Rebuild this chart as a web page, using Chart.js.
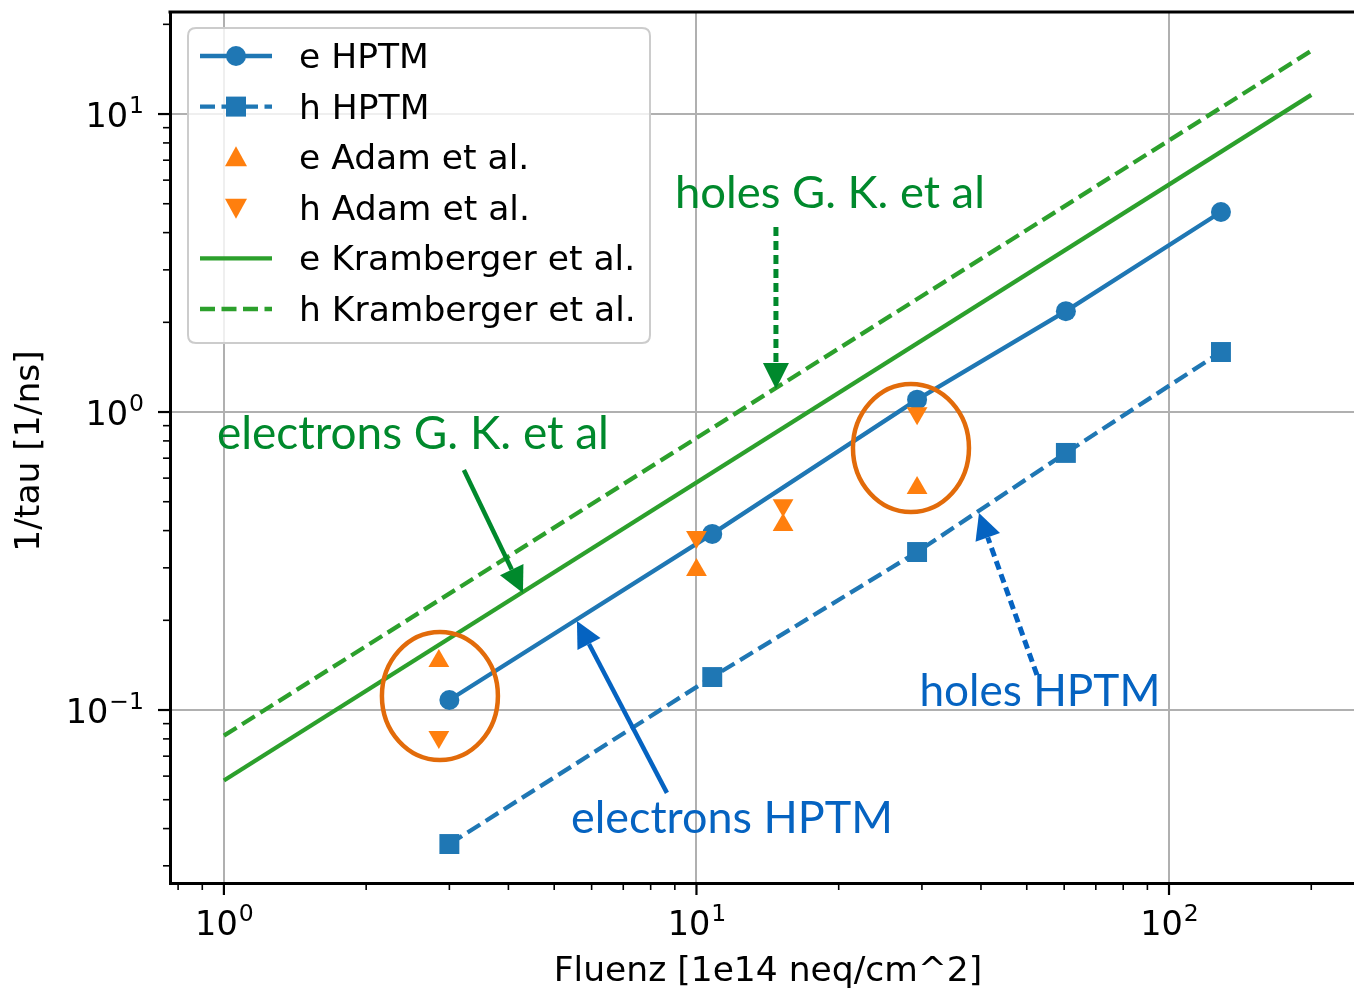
<!DOCTYPE html>
<html><head><meta charset="utf-8">
<script src="https://cdn.jsdelivr.net/npm/chart.js@4/dist/chart.umd.min.js"></script>
<style>html,body{margin:0;padding:0;background:#fff;overflow:hidden}canvas{display:block}</style>
</head><body><canvas id="c" width="1354" height="995" style="width:1354px;height:995px"></canvas>
<script>
// ---- data ----
const fluenceHPTM = [3.0, 10.8, 29.3, 60.5, 128.8];
const eHPTM = [0.108, 0.390, 1.10, 2.18, 4.69];
const hHPTM = [0.0355, 0.129, 0.339, 0.729, 1.59];
const fluenceAdam = [2.85, 10.0, 15.25, 29.3];
const eAdam = [0.146, 0.295, 0.418, 0.556];
const hAdam = [0.0812, 0.381, 0.487, 0.99];
const fluenceKram = [1, 200];
const eKram = [0.058, 11.6];
const hKram = [0.082, 16.3];
const seriesLabels = ['e HPTM', 'h HPTM', 'e Adam et al.', 'h Adam et al.', 'e Kramberger et al.', 'h Kramberger et al.'];
const xTickDecades = [0, 1, 2];
const yTickDecades = [-1, 0, 1];
const xTickLabels = [['10', '0'], ['10', '1'], ['10', '2']];
const yTickLabels = [['10', '\u22121'], ['10', '0'], ['10', '1']];
const xTitle = 'Fluenz [1e14 neq/cm^2]';
const yTitle = '1/tau [1/ns]';
const xRange = [0.769, 246.3];
const yRange = [0.02627, 22.0];
// annotations (text centre x, baseline y in data units)
const annotTexts = ['holes G. K. et al', 'electrons G. K. et al', 'electrons HPTM', 'holes HPTM'];
const annotX = [19.16, 2.512, 11.89, 53.3];
const annotY = [4.84, 0.751, 0.0387, 0.1031];
// arrows: start -> tip, data units
const arrowX1 = [14.73, 3.22, 8.66, 52.55];
const arrowY1 = [4.176, 0.639, 0.0527, 0.1311];
const arrowX2 = [14.73, 4.294, 5.586, 39.62];
const arrowY2 = [1.195, 0.247, 0.1989, 0.4583];
// ellipse centres
const ellipseX = [2.865, 28.44];
const ellipseY = [0.1114, 0.757];

// ---- styles ----
const BLUE = '#1f77b4', ORANGE = '#ff7f0e', GREEN = '#2ca02c';
const ANN_GREEN = '#00892C', ANN_BLUE = '#0563C1', ELL = '#E26B0A';
const annotColors = [ANN_GREEN, ANN_GREEN, ANN_BLUE, ANN_BLUE];
const annotWidths = [310, 392, 322, 241];
const arrowColors = [ANN_GREEN, ANN_GREEN, ANN_BLUE, ANN_BLUE];
const arrowDotted = [true, false, false, true];
const FONT = '"DejaVu Sans", sans-serif';
const TXT = 34.5;

function pts(xs, ys) { return xs.map((x, i) => ({x: x, y: ys[i]})); }
function isDecade(v) { const l = Math.log10(v); return Math.abs(l - Math.round(l)) < 1e-6; }
function logTicks(min, max) {
  const t = [];
  for (let e = Math.floor(Math.log10(min)); e <= Math.ceil(Math.log10(max)); e++) {
    for (let m = 1; m < 10; m++) {
      const v = parseFloat((m * Math.pow(10, e)).toPrecision(6));
      if (v >= min && v <= max) t.push({value: v});
    }
  }
  return t;
}

function drawMarker(ctx, style, x, y) {
  ctx.beginPath();
  if (style === 'circle') { ctx.arc(x, y, 10, 0, Math.PI * 2); }
  else if (style === 'rect') { ctx.rect(x - 10, y - 10, 20, 20); }
  else if (style === 'up') { ctx.moveTo(x, y - 11); ctx.lineTo(x + 11, y + 9); ctx.lineTo(x - 11, y + 9); ctx.closePath(); }
  else if (style === 'down') { ctx.moveTo(x, y + 11); ctx.lineTo(x + 11, y - 9); ctx.lineTo(x - 11, y - 9); ctx.closePath(); }
  ctx.fill();
}

function drawArrow(ctx, x1, y1, x2, y2, color, dotted) {
  const ang = Math.atan2(y2 - y1, x2 - x1);
  const headLen = 26, headW = 13;
  const bx = x2 - Math.cos(ang) * headLen, by = y2 - Math.sin(ang) * headLen;
  ctx.save();
  ctx.strokeStyle = color; ctx.fillStyle = color;
  ctx.lineWidth = dotted ? 5 : 4.5;
  ctx.setLineDash(dotted ? [9, 5] : []);
  ctx.beginPath(); ctx.moveTo(x1, y1); ctx.lineTo(bx, by); ctx.stroke();
  ctx.setLineDash([]);
  ctx.beginPath();
  ctx.moveTo(x2, y2);
  ctx.lineTo(bx + Math.sin(ang) * headW, by - Math.cos(ang) * headW);
  ctx.lineTo(bx - Math.sin(ang) * headW, by + Math.cos(ang) * headW);
  ctx.closePath(); ctx.fill();
  ctx.restore();
}

const decor = {
  id: 'decor',
  afterDraw(chart) {
    const ctx = chart.ctx, sx = chart.scales.x, sy = chart.scales.y, ca = chart.chartArea;
    const X = v => sx.getPixelForValue(v), Y = v => sy.getPixelForValue(v);
    ctx.save();
    // top spine
    ctx.strokeStyle = '#000'; ctx.lineWidth = 3;
    ctx.beginPath(); ctx.moveTo(ca.left - 1.5, ca.top); ctx.lineTo(ca.right + 2, ca.top); ctx.stroke();
    // tick marks
    ctx.lineCap = 'butt';
    sx.ticks.forEach(t => {
      const p = X(t.value), maj = isDecade(t.value);
      ctx.lineWidth = maj ? 2.2 : 1.6;
      ctx.beginPath(); ctx.moveTo(p, ca.bottom); ctx.lineTo(p, ca.bottom + (maj ? 12 : 7)); ctx.stroke();
    });
    sy.ticks.forEach(t => {
      const p = Y(t.value), maj = isDecade(t.value);
      ctx.lineWidth = maj ? 2.2 : 1.6;
      ctx.beginPath(); ctx.moveTo(ca.left, p); ctx.lineTo(ca.left - (maj ? 12 : 7), p); ctx.stroke();
    });
    // tick labels
    ctx.fillStyle = '#000'; ctx.textBaseline = 'alphabetic';
    const baseF = '33.5px ' + FONT, supF = '23.5px ' + FONT;
    xTickDecades.forEach((d, i) => {
      const c = X(Math.pow(10, d));
      ctx.font = baseF; const wb = ctx.measureText(xTickLabels[i][0]).width;
      ctx.font = supF; const ws = ctx.measureText(xTickLabels[i][1]).width;
      const sx0 = c - (wb + ws) / 2;
      ctx.font = baseF; ctx.textAlign = 'left'; ctx.fillText(xTickLabels[i][0], sx0, ca.bottom + 52);
      ctx.font = supF; ctx.fillText(xTickLabels[i][1], sx0 + wb + 1, ca.bottom + 38);
    });
    yTickDecades.forEach((d, i) => {
      const c = Y(Math.pow(10, d));
      ctx.font = baseF; const wb = ctx.measureText(yTickLabels[i][0]).width;
      ctx.font = supF; const ws = ctx.measureText(yTickLabels[i][1]).width;
      const sx0 = ca.left - 27 - ws - wb;
      ctx.font = baseF; ctx.textAlign = 'left'; ctx.fillText(yTickLabels[i][0], sx0, c + 13);
      ctx.font = supF; ctx.fillText(yTickLabels[i][1], sx0 + wb + 1, c - 1);
    });
    // axis titles
    ctx.font = TXT + 'px ' + FONT; ctx.textAlign = 'center'; ctx.textBaseline = 'middle';
    ctx.fillText(xTitle, 768, 972);
    ctx.save(); ctx.translate(30, 451); ctx.rotate(-Math.PI / 2); ctx.fillText(yTitle, 0, 0); ctx.restore();

    // legend
    ctx.save();
    const lx = 188, ly = 28, lw = 462, lh = 315, r = 8;
    ctx.beginPath();
    ctx.moveTo(lx + r, ly); ctx.lineTo(lx + lw - r, ly); ctx.quadraticCurveTo(lx + lw, ly, lx + lw, ly + r);
    ctx.lineTo(lx + lw, ly + lh - r); ctx.quadraticCurveTo(lx + lw, ly + lh, lx + lw - r, ly + lh);
    ctx.lineTo(lx + r, ly + lh); ctx.quadraticCurveTo(lx, ly + lh, lx, ly + lh - r);
    ctx.lineTo(lx, ly + r); ctx.quadraticCurveTo(lx, ly, lx + r, ly); ctx.closePath();
    ctx.fillStyle = 'rgba(255,255,255,0.8)'; ctx.fill();
    ctx.strokeStyle = '#cccccc'; ctx.lineWidth = 2; ctx.stroke();
    const rows = [56, 106.6, 157.2, 207.8, 258.4, 309];
    const hs = [
      {c: BLUE, line: true, dash: [], m: 'circle'},
      {c: BLUE, line: true, dash: [15, 6.5], m: 'rect'},
      {c: ORANGE, line: false, m: 'up'},
      {c: ORANGE, line: false, m: 'down'},
      {c: GREEN, line: true, dash: [], m: null},
      {c: GREEN, line: true, dash: [15, 6.5], m: null}
    ];
    hs.forEach((h, i) => {
      const y = rows[i];
      ctx.strokeStyle = h.c; ctx.fillStyle = h.c; ctx.lineWidth = 4.3;
      if (h.line) {
        ctx.setLineDash(h.dash); ctx.lineDashOffset = 0;
        ctx.beginPath(); ctx.moveTo(200, y); ctx.lineTo(272, y); ctx.stroke();
        ctx.setLineDash([]);
      }
      if (h.m) drawMarker(ctx, h.m, 236, y);
      ctx.fillStyle = '#000'; ctx.font = TXT + 'px ' + FONT; ctx.textAlign = 'left'; ctx.textBaseline = 'middle';
      ctx.fillText(seriesLabels[i], 299, y + 3);
    });
    ctx.restore();

    // ellipses
    ctx.strokeStyle = ELL; ctx.lineWidth = 4.5;
    ellipseX.forEach((ex, i) => {
      ctx.beginPath(); ctx.ellipse(X(ex), Y(ellipseY[i]), 58, 64, 0, 0, Math.PI * 2); ctx.stroke();
    });
    // arrows
    arrowX1.forEach((ax, i) => {
      drawArrow(ctx, X(ax), Y(arrowY1[i]), X(arrowX2[i]), Y(arrowY2[i]), arrowColors[i], arrowDotted[i]);
    });
    // annotation texts
    ctx.textAlign = 'center'; ctx.textBaseline = 'alphabetic';
    annotTexts.forEach((t, i) => {
      ctx.font = '44px Lato, "Open Sans", sans-serif';
      const w = ctx.measureText(t).width;
      const size = 44 * annotWidths[i] / w;
      ctx.font = size.toFixed(2) + 'px Lato, "Open Sans", sans-serif';
      ctx.fillStyle = annotColors[i];
      ctx.fillText(t, X(annotX[i]), Y(annotY[i]));
    });
    ctx.restore();
  }
};

const dash = [15, 6.5];
new Chart(document.getElementById('c'), {
  type: 'line',
  data: {
    datasets: [
      {label: seriesLabels[0], data: pts(fluenceHPTM, eHPTM), borderColor: BLUE, backgroundColor: BLUE, borderWidth: 4.3,
       pointStyle: 'circle', pointRadius: 10, pointBorderWidth: 0, pointBackgroundColor: BLUE, order: 6},
      {label: seriesLabels[1], data: pts(fluenceHPTM, hHPTM), borderColor: BLUE, backgroundColor: BLUE, borderWidth: 4.3, borderDash: dash,
       pointStyle: 'rect', pointRadius: 14.1, pointBorderWidth: 0, pointBackgroundColor: BLUE, order: 5},
      {label: seriesLabels[2], data: pts(fluenceAdam, eAdam), showLine: false, borderColor: ORANGE, backgroundColor: ORANGE,
       pointStyle: 'triangle', pointRadius: 12, pointBorderWidth: 0, pointBackgroundColor: ORANGE, order: 4},
      {label: seriesLabels[3], data: pts(fluenceAdam, hAdam), showLine: false, borderColor: ORANGE, backgroundColor: ORANGE,
       pointStyle: 'triangle', pointRotation: 180, pointRadius: 12, pointBorderWidth: 0, pointBackgroundColor: ORANGE, order: 3},
      {label: seriesLabels[4], data: pts(fluenceKram, eKram), borderColor: GREEN, borderWidth: 4.3, pointRadius: 0, order: 2},
      {label: seriesLabels[5], data: pts(fluenceKram, hKram), borderColor: GREEN, borderWidth: 4.3, borderDash: dash, pointRadius: 0, order: 1}
    ]
  },
  options: {
    responsive: false, animation: false, devicePixelRatio: 1,
    layout: {autoPadding: false, padding: {left: 170, top: 12, right: 0, bottom: 112}},
    plugins: {legend: {display: false}, tooltip: {enabled: false}},
    elements: {line: {tension: 0, borderCapStyle: 'butt'}},
    scales: {
      x: {type: 'logarithmic', min: xRange[0], max: xRange[1],
          afterBuildTicks: s => { s.ticks = logTicks(xRange[0], xRange[1]); },
          ticks: {display: false},
          grid: {drawTicks: false, lineWidth: 2, color: c => (c.tick && isDecade(c.tick.value)) ? '#b0b0b0' : 'rgba(0,0,0,0)'},
          border: {display: true, color: '#000', width: 3}},
      y: {type: 'logarithmic', min: yRange[0], max: yRange[1],
          afterBuildTicks: s => { s.ticks = logTicks(yRange[0], yRange[1]); },
          ticks: {display: false},
          grid: {drawTicks: false, lineWidth: 2, color: c => (c.tick && isDecade(c.tick.value)) ? '#b0b0b0' : 'rgba(0,0,0,0)'},
          border: {display: true, color: '#000', width: 3}}
    }
  },
  plugins: [decor]
});
</script></body></html>
